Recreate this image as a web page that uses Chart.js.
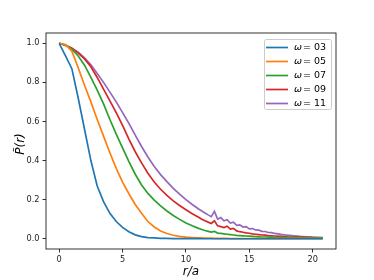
<!DOCTYPE html>
<html>
<head>
<meta charset="utf-8">
<script src="https://cdn.jsdelivr.net/npm/chart.js@4.4.1/dist/chart.umd.min.js"></script>
<style>
  html, body { margin: 0; padding: 0; background: #fff; }
  #wrap { width: 374px; height: 280px; }
</style>
</head>
<body>
<div id="wrap"><canvas id="pChart" width="374" height="280"></canvas></div>
<script>
    // --- DATA ---
    const rValues = [
        0, 0.5, 1, 1.5, 2, 2.5, 3, 3.5, 4, 4.5, 5, 5.5, 6, 6.5, 7, 7.5, 8, 8.5, 9, 9.5, 10, 10.5, 11,
        11.25, 11.5, 11.75, 12, 12.25, 12.5, 12.75, 13, 13.25, 13.5, 13.75, 14, 14.25, 14.5, 14.75, 15,
        15.25, 15.5, 15.75, 16, 16.25, 16.5, 16.75, 17,
        17.5, 18, 18.5, 19, 19.5, 20, 20.5, 20.8
    ];
    const omegaLabels = ['03', '05', '07', '09', '11'];
    const xTicks = [0, 5, 10, 15, 20];
    const yTicks = [0, 0.2, 0.4, 0.6, 0.8, 1.0];

    const p03 = [
        1, 0.935, 0.87, 0.72, 0.56, 0.40, 0.27, 0.19, 0.13, 0.088, 0.058, 0.036, 0.02, 0.011, 0.006, 0.004, 0.002, 0.002, 0.001, 0.001, 0.001, 0.001, 0.001,
        0, 0, 0, 0, 0, 0, 0, 0, 0, 0, 0, 0, 0, 0, 0, 0, 0, 0, 0, 0, 0, 0, 0, 0,
        0, 0, 0, 0, 0, 0, 0, 0
    ];
    const p05 = [
        1, 0.993, 0.96, 0.875, 0.785, 0.70, 0.61, 0.525, 0.44, 0.36, 0.29, 0.23, 0.175, 0.13, 0.088, 0.06, 0.04, 0.027, 0.018, 0.012, 0.008, 0.006, 0.004,
        0.004, 0.003, 0.003, 0.003, 0.002, 0.002, 0.002, 0.002, 0.002, 0.001, 0.001, 0.001, 0.001, 0.001, 0.001, 0.001,
        0.001, 0.001, 0.001, 0.001, 0.001, 0.001, 0.001, 0.001,
        0.001, 0.001, 0.001, 0.001, 0.001, 0.001, 0.001, 0.001
    ];
    const p07 = [
        1, 0.99, 0.97, 0.935, 0.888, 0.825, 0.76, 0.69, 0.61, 0.535, 0.465, 0.395, 0.33, 0.275, 0.232, 0.198, 0.168, 0.142, 0.119, 0.099, 0.081, 0.066, 0.053,
        0.047, 0.042, 0.038, 0.034, 0.038, 0.029, 0.027, 0.025, 0.023, 0.021, 0.019, 0.017, 0.016, 0.015, 0.014, 0.013,
        0.012, 0.011, 0.01, 0.009, 0.009, 0.008, 0.008, 0.007,
        0.006, 0.006, 0.005, 0.005, 0.005, 0.004, 0.004, 0.004
    ];
    const p09 = [
        1, 0.99, 0.975, 0.95, 0.92, 0.88, 0.825, 0.765, 0.705, 0.645, 0.58, 0.51, 0.445, 0.388, 0.335, 0.29, 0.253, 0.222, 0.194, 0.17, 0.148, 0.128, 0.11,
        0.1, 0.092, 0.085, 0.078, 0.092, 0.066, 0.062, 0.057, 0.064, 0.049, 0.053, 0.04, 0.036, 0.033, 0.03, 0.028,
        0.025, 0.023, 0.021, 0.019, 0.018, 0.016, 0.015, 0.014,
        0.012, 0.01, 0.009, 0.008, 0.007, 0.006, 0.005, 0.005
    ];
    const p11 = [
        1, 0.99, 0.975, 0.955, 0.925, 0.89, 0.845, 0.80, 0.75, 0.70, 0.645, 0.59, 0.53, 0.472, 0.418, 0.37, 0.328, 0.292, 0.258, 0.228, 0.2, 0.175, 0.152,
        0.142, 0.132, 0.122, 0.113, 0.14, 0.1, 0.108, 0.092, 0.097, 0.08, 0.085, 0.068, 0.071, 0.06, 0.062, 0.05,
        0.052, 0.045, 0.044, 0.038, 0.037, 0.032, 0.031, 0.027,
        0.022, 0.018, 0.015, 0.012, 0.01, 0.008, 0.007, 0.006
    ];

    const seriesList = [p03, p05, p07, p09, p11];
    const colors = ['#1f77b4', '#ff7f0e', '#2ca02c', '#d62728', '#9467bd'];

    const datasets = seriesList.map((s, i) => ({
        label: '\u03c9 = ' + omegaLabels[i],
        data: rValues.map((r, k) => ({ x: r, y: s[k] })),
        borderColor: colors[i],
        backgroundColor: colors[i],
        borderWidth: 1.7,
        pointRadius: 0,
        tension: 0,
        fill: false
    }));

    // --- FRAME, AXIS TITLES AND LEGEND ---
    const decorPlugin = {
        id: 'decor',
        afterDraw(chart) {
            const c = chart.ctx;
            const a = chart.chartArea;
            c.save();
            // box round the plot
            c.strokeStyle = '#000';
            c.lineWidth = 0.8;
            c.strokeRect(a.left, a.top, a.right - a.left, a.bottom - a.top);

            // axis titles
            c.fillStyle = '#000';
            c.font = 'italic 12px "DejaVu Sans"';
            c.textAlign = 'center';
            c.textBaseline = 'middle';
            c.fillText('r/a', (a.left + a.right) / 2, 272);
            c.save();
            c.translate(21, (a.top + a.bottom) / 2 + 3);
            c.rotate(-Math.PI / 2);
            c.fillText('P\u0303(r)', 0, 0);
            c.restore();

            // legend box
            const lx = 264, ly = 39, lw = 67, lh = 70;
            c.fillStyle = 'rgba(255,255,255,0.8)';
            c.strokeStyle = '#cccccc';
            c.lineWidth = 1;
            c.beginPath();
            c.roundRect(lx + 0.5, ly + 0.5, lw, lh, 2);
            c.fill();
            c.stroke();
            chart.data.datasets.forEach((ds, i) => {
                const y = 47.5 + i * 14;
                c.strokeStyle = ds.borderColor;
                c.lineWidth = 1.7;
                c.beginPath();
                c.moveTo(266, y);
                c.lineTo(288, y);
                c.stroke();
                c.fillStyle = '#000';
                c.textAlign = 'left';
                c.textBaseline = 'middle';
                c.font = 'italic 9.5px "DejaVu Sans"';
                c.fillText('\u03c9', 294, y);
                c.font = '9.5px "DejaVu Sans"';
                c.fillText(' = ' + omegaLabels[i], 300, y);
            });
            c.restore();
        }
    };

    const ctx = document.getElementById('pChart').getContext('2d');
    const pChart = new Chart(ctx, {
        type: 'line',
        data: { datasets: datasets },
        options: {
            responsive: false,
            animation: false,
            devicePixelRatio: 1,
            layout: { padding: { left: 0, top: 33, right: 38, bottom: 0 } },
            scales: {
                x: {
                    type: 'linear',
                    min: -1.04,
                    max: 21.84,
                    afterFit: s => { s.height = 31; },
                    afterBuildTicks: s => { s.ticks = xTicks.map(v => ({ value: v })); },
                    grid: { drawOnChartArea: false, drawTicks: true, tickLength: 3.5, color: '#000', tickWidth: 0.8 },
                    border: { display: false },
                    ticks: { color: '#222', font: { family: 'DejaVu Sans', size: 8.2 }, padding: 2, maxRotation: 0 }
                },
                y: {
                    min: -0.0525,
                    max: 1.0525,
                    afterFit: s => { s.width = 46; },
                    afterBuildTicks: s => { s.ticks = yTicks.map(v => ({ value: v })); },
                    grid: { drawOnChartArea: false, drawTicks: true, tickLength: 3.5, color: '#000', tickWidth: 0.8 },
                    border: { display: false },
                    ticks: { color: '#222', font: { family: 'DejaVu Sans', size: 8.2 }, padding: 3, callback: v => v.toFixed(1) }
                }
            },
            plugins: { legend: { display: false }, tooltip: { enabled: false } }
        },
        plugins: [decorPlugin]
    });
</script>
</body>
</html>
